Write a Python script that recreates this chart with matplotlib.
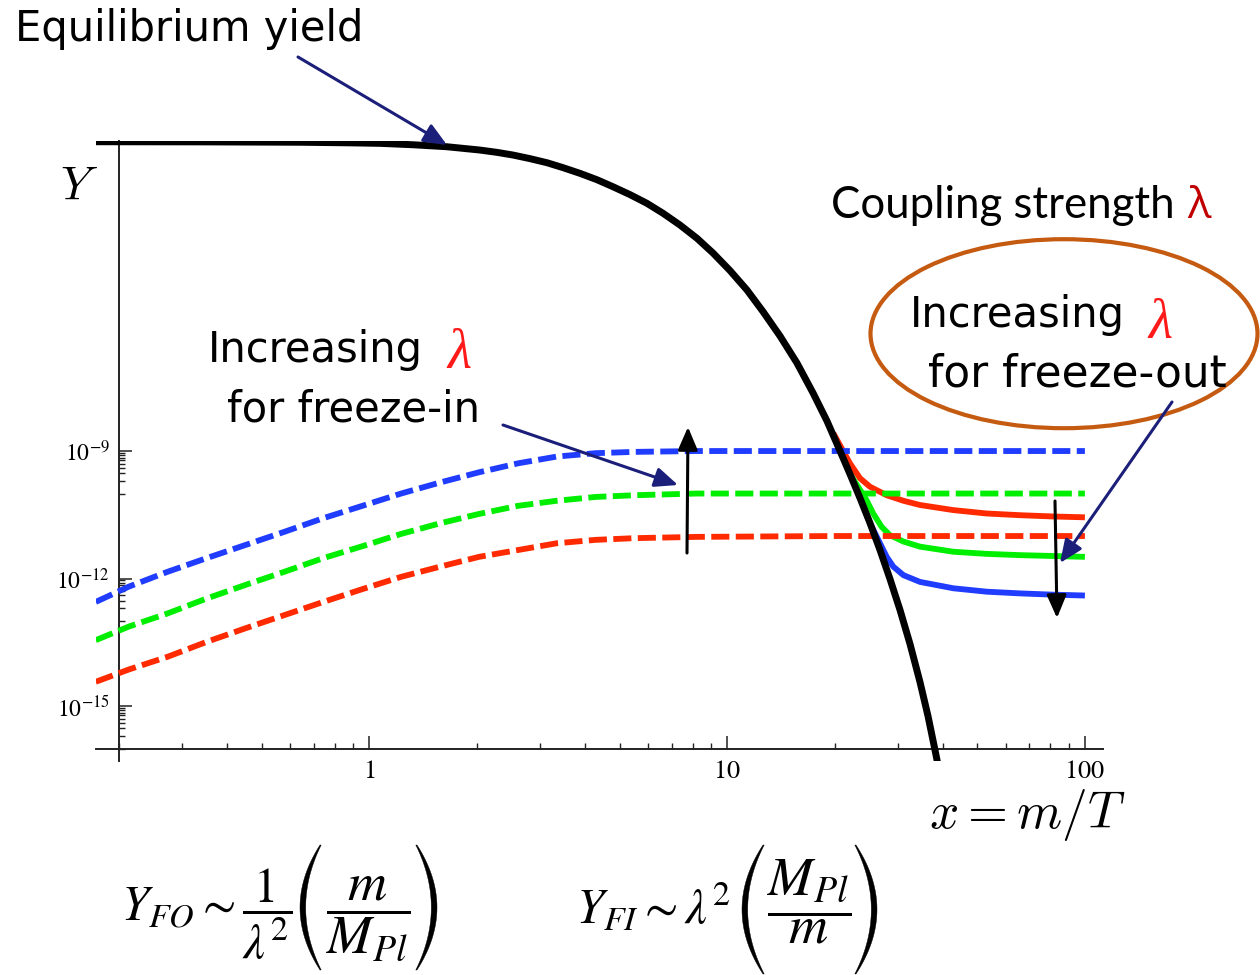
import numpy as np
import matplotlib
matplotlib.use("Agg")
import matplotlib.pyplot as plt
from matplotlib.patches import Ellipse, FancyArrowPatch, Polygon
from matplotlib.transforms import Affine2D
from matplotlib.ticker import FixedLocator, FixedFormatter, LogLocator, NullFormatter

# ---------------- data (x = m/T, log10 Y) ----------------
eq_x = [0.1719, 0.3358, 0.6393, 0.882, 1.070, 1.323, 1.647, 2.037, 2.272, 2.519,
        2.810, 3.135, 3.475, 3.877, 4.325, 4.794, 5.350, 5.968, 6.615, 7.379,
        8.234, 9.127, 10.18, 11.36, 12.59, 14.05, 15.67, 17.38, 19.01, 20.68,
        22.04, 23.51, 25.07, 26.74, 28.52, 30.42, 32.44, 34.59, 36.42, 38.10, 39.10]
eq_logY = [-1.722, -1.725, -1.734, -1.748, -1.760, -1.793, -1.840, -1.918, -1.972,
           -2.035, -2.120, -2.216, -2.332, -2.466, -2.616, -2.781, -2.967, -3.172,
           -3.405, -3.682, -3.995, -4.341, -4.753, -5.212, -5.718, -6.294, -6.929,
           -7.635, -8.294, -9.0, -9.541, -10.106, -10.694, -11.329, -12.012,
           -12.741, -13.541, -14.435, -15.235, -16.035, -16.506]

fi_x = [0.1717, 0.2125, 0.2729, 0.3506, 0.4503, 0.5785, 0.7430, 0.9548, 1.226,
        1.576, 2.024, 2.599, 3.339, 4.290, 5.509, 8.229, 20, 50, 100]
fi_blue_logY = [-12.55, -12.19, -11.84, -11.52, -11.21, -10.90, -10.58, -10.29,
                -10.0, -9.74, -9.50, -9.29, -9.13, -9.05, -9.02, -9.0, -9.0, -9.0, -9.0]
fi_green_logY = [-13.45, -13.13, -12.82, -12.47, -12.15, -11.84, -11.52, -11.24,
                 -10.95, -10.70, -10.48, -10.29, -10.17, -10.08, -10.04, -10.0,
                 -10.0, -10.0, -10.0]
fi_red_logY = [-14.43, -14.14, -13.84, -13.49, -13.17, -12.86, -12.55, -12.25,
               -11.96, -11.72, -11.49, -11.33, -11.17, -11.09, -11.05, -11.02,
               -11.0, -11.0, -11.0]

fo_red_x = [19.8, 22.04, 23.51, 25.07, 27.92, 31.08, 34.59, 42.87, 53.15, 65.86, 81.6, 100]
fo_red_logY = [-8.58, -9.29, -9.64, -9.84, -10.04, -10.17, -10.27, -10.39, -10.47,
               -10.51, -10.54, -10.56]
fo_green_x = [22.04, 24.5, 25.6, 27.0, 28.5, 31.1, 34.6, 42.9, 53.2, 65.9, 81.6, 100]
fo_green_logY = [-9.54, -10.15, -10.47, -10.78, -10.98, -11.13, -11.25, -11.37,
                 -11.42, -11.45, -11.47, -11.49]
fo_blue_x = [25.07, 26.45, 27.92, 29.13, 31.08, 34.6, 42.9, 53.2, 65.9, 81.6, 100]
fo_blue_logY = [-10.70, -11.09, -11.49, -11.72, -11.92, -12.08, -12.23, -12.31,
                -12.35, -12.38, -12.40]

x_ticks = [1, 10, 100]
x_tick_labels = [r"$1$", r"$10$", r"$100$"]
y_ticks = [1e-15, 1e-12, 1e-9]
y_tick_labels = [r"$10^{-15}$", r"$10^{-12}$", r"$10^{-9}$"]
y_minor_exps = [-10, -13, -16]

# ---------------- figure ----------------
plt.rcParams["mathtext.fontset"] = "stix"
W, H = 1260, 975
fig = plt.figure(figsize=(12.6, 9.75), dpi=100)
PX = Affine2D().scale(1 / W, -1 / H).translate(0, 1) + fig.transFigure


def fx(x):
    return x / W


def fy(y):
    return 1 - y / H


ax = fig.add_axes([fx(96), fy(760.5), fx(1102.5) - fx(96), fy(140.8) - fy(760.5)])
ax.set_xscale("log")
ax.set_yscale("log")
ax.set_xlim(10 ** -0.7646, 10 ** 2.0492)
ax.set_ylim(10 ** -16.282, 10 ** -1.70)
ax.patch.set_visible(False)

BLUE, GREEN, RED = "#1f3cff", "#00ee00", "#ff2a00"
dash = (3.1, 1.1)
lw_c = 4.2

for xs, ys, c in [(fo_red_x, fo_red_logY, RED), (fo_green_x, fo_green_logY, GREEN),
                  (fo_blue_x, fo_blue_logY, BLUE)]:
    ax.plot(xs, 10 ** np.array(ys), color=c, lw=lw_c, solid_capstyle="butt",
            solid_joinstyle="round", zorder=2)

for ys, c in [(fi_blue_logY, BLUE), (fi_green_logY, GREEN), (fi_red_logY, RED)]:
    ax.plot(fi_x, 10 ** np.array(ys), color=c, lw=lw_c, dashes=dash, zorder=3)

ax.plot(eq_x, 10 ** np.array(eq_logY), color="black", lw=5.0, zorder=4,
        solid_capstyle="butt", solid_joinstyle="round")

for s in ["top", "right"]:
    ax.spines[s].set_visible(False)
ax.spines["left"].set_position(("data", 0.2))
ax.spines["bottom"].set_position(("data", 1e-16))
for s in ["left", "bottom"]:
    ax.spines[s].set_linewidth(1.4)
    ax.spines[s].set_color("#222222")

ax.xaxis.set_major_locator(FixedLocator(x_ticks))
ax.xaxis.set_major_formatter(FixedFormatter(x_tick_labels))
ax.xaxis.set_minor_locator(LogLocator(base=10, subs=range(2, 10)))
ax.xaxis.set_minor_formatter(NullFormatter())
ax.yaxis.set_major_locator(FixedLocator(y_ticks))
ax.yaxis.set_major_formatter(FixedFormatter(y_tick_labels))
ax.yaxis.set_minor_locator(FixedLocator([k * 10.0 ** e for e in y_minor_exps for k in range(1, 10)]))
ax.yaxis.set_minor_formatter(NullFormatter())

ax.tick_params(which="major", direction="in", length=9.5, width=1.1, color="#222222")
ax.tick_params(which="minor", direction="in", length=4, width=1.0, color="#222222")
ax.tick_params(axis="x", labelsize=19, pad=7)
ax.tick_params(axis="y", labelsize=17, pad=7)

# ---------------- annotations ----------------
COMIC = ["DejaVu Sans"]
fig.text(fx(15), fy(41), "Equilibrium yield", fontsize=30, family=COMIC, va="baseline")

fig.text(fx(208), fy(361.7), "Increasing", fontsize=30, family=COMIC, va="baseline")
fig.text(fx(447), fy(368), "λ", fontsize=40, family="Liberation Serif", style="italic",
         color="#ff1a1a", va="baseline")
fig.text(fx(227), fy(421.7), "for freeze-in", fontsize=30, family=COMIC, va="baseline")

fig.text(fx(910), fy(326.7), "Increasing", fontsize=30, family=COMIC, va="baseline")
fig.text(fx(1148), fy(338), "λ", fontsize=40, family="Liberation Serif", style="italic",
         color="#ff1a1a", va="baseline")
fig.text(fx(928), fy(386.7), "for freeze-out", fontsize=31.5, family=COMIC, va="baseline")

fig.text(fx(831), fy(218.3), "Coupling strength", fontsize=31.5,
         family=["Lato", "DejaVu Sans"], va="baseline")
fig.text(fx(1187), fy(218.3), "λ", fontsize=31.5, family=["Open Sans", "DejaVu Sans"],
         color="#c00000", va="baseline")

fig.text(fx(79), fy(198.3), r"$Y$", math_fontfamily="cm", fontsize=34,
         ha="center", va="baseline")
fig.text(fx(1027), fy(828), r"$x = m/T$", math_fontfamily="cm", fontsize=37,
         ha="center", va="baseline")

# bottom formulas
FS = 35
FSI = 39
fig.text(fx(121), fy(921), r"$Y_{FO} \sim \dfrac{1}{\lambda^2}$", fontsize=FS,
         ha="left", va="baseline")
fig.text(fx(368), fy(922), r"$\dfrac{m}{M_{Pl}}$", fontsize=FSI, ha="center", va="baseline")
fig.text(fx(576), fy(923), r"$Y_{FI} \sim \lambda^2$", fontsize=FS, ha="left", va="baseline")
fig.text(fx(809), fy(924), r"$\dfrac{M_{Pl}}{m}$", fontsize=FSI, ha="center", va="baseline")


def paren(x_end, depth, y0, y1, left=True, thick=4.5, tip=1.2):
    s = np.linspace(-1, 1, 60)
    yy = (y0 + y1) / 2 + s * (y1 - y0) / 2
    sign = -1 if left else 1
    outer = x_end + sign * depth * (1 - s ** 2)
    inner = x_end - sign * tip + sign * (depth - thick) * (1 - s ** 2)
    pts = np.column_stack([np.concatenate([outer, inner[::-1]]),
                           np.concatenate([yy, yy[::-1]])])
    fig.add_artist(Polygon(pts, closed=True, transform=PX, fc="black", ec="black", lw=0.3))


paren(320, 20, 845, 970, left=True)
paren(417, 20, 845, 970, left=False)
paren(763, 21, 845, 974, left=True)
paren(856, 21, 845, 974, left=False)

fig.add_artist(Ellipse((fx(1064), fy(333.7)), width=387 / W, height=189 / H,
                       transform=fig.transFigure, fill=False, ec="#c55a11", lw=3.0))

NAVY = "#1b1f7a"
arrows = [((298, 57), (447, 145), NAVY), ((503, 425), (678, 485), NAVY),
          ((1172, 402), (1060, 563), NAVY), ((687, 553), (688, 427), "black"),
          ((1055, 501), (1057, 618), "black")]
for (x1, y1), (x2, y2), c in arrows:
    fig.add_artist(FancyArrowPatch((fx(x1), fy(y1)), (fx(x2), fy(y2)),
                                   transform=fig.transFigure,
                                   arrowstyle="-|>,head_length=0.7,head_width=0.3",
                                   mutation_scale=20, lw=2.2, color=c,
                                   shrinkA=0, shrinkB=0))

fig.savefig("out.png", dpi=100)
